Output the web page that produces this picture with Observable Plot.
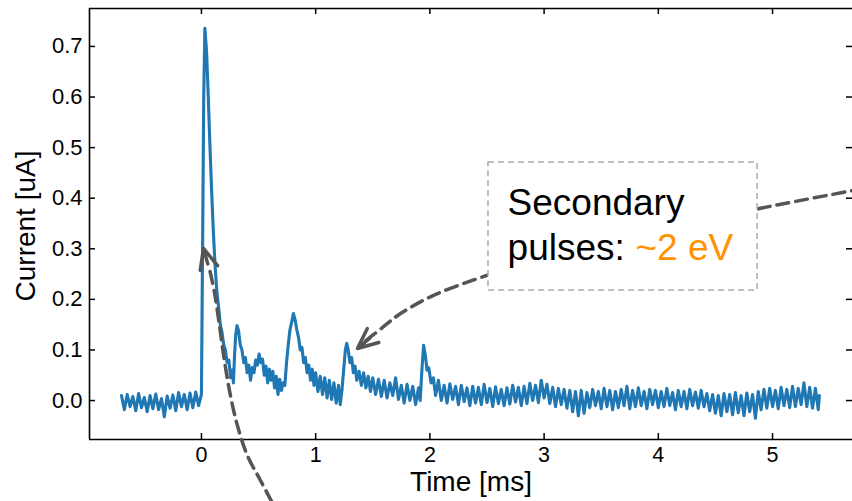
<!DOCTYPE html>
<html><head><meta charset="utf-8">
<script src="https://cdn.jsdelivr.net/npm/d3@7"></script>
<script src="https://cdn.jsdelivr.net/npm/@observablehq/plot@0.6"></script>
<style>html,body{margin:0;padding:0;background:#fff;overflow:hidden;} #chart svg{display:block;}</style>
</head><body><div id="chart"></div>
<script>
// ---- scales / ticks ----
const xDomain = [-0.98, 5.70];
const yDomain = [-0.077, 0.775];
const xTicks = [0, 1, 2, 3, 4, 5];
const yTicks = [0.0, 0.1, 0.2, 0.3, 0.4, 0.5, 0.6, 0.7];
const xLabel = "Time [ms]";
const yLabel = "Current [uA]";

const timeMs = [
-0.700,-0.675,-0.650,-0.625,-0.600,-0.575,-0.550,-0.525,-0.500,-0.475,
-0.450,-0.425,-0.400,-0.375,-0.350,-0.325,-0.300,-0.275,-0.250,-0.225,
-0.200,-0.175,-0.150,-0.125,-0.100,-0.075,-0.050,-0.025,0.000,0.010,
0.020,0.030,0.045,0.060,0.075,0.090,0.105,0.120,0.135,0.150,
0.165,0.180,0.195,0.210,0.225,0.240,0.255,0.270,0.280,0.290,
0.300,0.312,0.325,0.340,0.355,0.370,0.385,0.400,0.415,0.430,
0.445,0.460,0.475,0.490,0.505,0.520,0.535,0.550,0.565,0.580,
0.595,0.610,0.625,0.640,0.655,0.670,0.685,0.700,0.715,0.730,
0.745,0.760,0.775,0.790,0.805,0.820,0.835,0.850,0.865,0.880,
0.895,0.910,0.925,0.940,0.955,0.970,0.985,1.000,1.020,1.040,
1.060,1.080,1.100,1.120,1.140,1.160,1.180,1.200,1.215,1.230,
1.245,1.260,1.272,1.285,1.300,1.315,1.330,1.345,1.360,1.380,
1.400,1.420,1.440,1.460,1.480,1.500,1.525,1.550,1.575,1.600,
1.625,1.650,1.675,1.700,1.725,1.750,1.775,1.800,1.825,1.850,
1.875,1.900,1.915,1.930,1.945,1.960,1.975,1.990,2.010,2.030,
2.050,2.075,2.100,2.125,2.150,2.175,2.200,2.225,2.250,2.275,
2.300,2.325,2.350,2.375,2.400,2.425,2.450,2.475,2.500,2.525,
2.550,2.575,2.600,2.625,2.650,2.675,2.700,2.725,2.750,2.775,
2.800,2.825,2.850,2.875,2.900,2.925,2.950,2.975,3.000,3.025,
3.050,3.075,3.100,3.125,3.150,3.175,3.200,3.225,3.250,3.275,
3.300,3.325,3.350,3.375,3.400,3.425,3.450,3.475,3.500,3.525,
3.550,3.575,3.600,3.625,3.650,3.675,3.700,3.725,3.750,3.775,
3.800,3.825,3.850,3.875,3.900,3.925,3.950,3.975,4.000,4.025,
4.050,4.075,4.100,4.125,4.150,4.175,4.200,4.225,4.250,4.275,
4.300,4.325,4.350,4.375,4.400,4.425,4.450,4.475,4.500,4.525,
4.550,4.575,4.600,4.625,4.650,4.675,4.700,4.725,4.750,4.775,
4.800,4.825,4.850,4.875,4.900,4.925,4.950,4.975,5.000,5.025,
5.050,5.075,5.100,5.125,5.150,5.175,5.200,5.225,5.250,5.275,
5.300,5.325,5.350,5.375,5.400,5.410
];
const currentUA = [
0.010,-0.018,0.012,-0.012,0.008,-0.020,0.014,-0.014,0.006,-0.022,
0.010,-0.016,0.013,-0.018,0.004,-0.032,0.009,-0.015,0.011,-0.020,
0.016,-0.012,0.012,-0.018,0.015,-0.014,0.017,-0.010,0.012,0.300,
0.600,0.736,0.690,0.600,0.500,0.410,0.330,0.265,0.215,0.185,
0.150,0.135,0.110,0.100,0.075,0.080,0.045,0.060,0.035,0.090,
0.130,0.148,0.138,0.110,0.100,0.075,0.085,0.055,0.070,0.040,
0.065,0.055,0.080,0.070,0.092,0.075,0.082,0.050,0.068,0.035,
0.062,0.040,0.058,0.025,0.048,0.012,0.042,0.020,0.035,0.030,
0.075,0.110,0.140,0.155,0.172,0.160,0.140,0.125,0.100,0.105,
0.075,0.085,0.055,0.070,0.040,0.062,0.030,0.055,0.018,0.048,
0.012,0.045,0.005,0.040,0.002,0.035,-0.005,0.030,-0.008,0.020,
0.060,0.100,0.113,0.100,0.075,0.085,0.055,0.068,0.040,0.058,
0.030,0.055,0.025,0.048,0.018,0.045,0.012,0.042,0.008,0.040,
0.005,0.035,0.010,0.045,0.002,0.030,-0.005,0.032,0.000,0.028,
-0.008,0.025,0.000,0.060,0.109,0.090,0.060,0.065,0.035,0.045,
0.010,0.040,0.000,0.030,-0.005,0.033,0.002,0.028,-0.008,0.030,
-0.002,0.025,-0.010,0.028,-0.005,0.026,-0.008,0.032,-0.004,0.024,
-0.012,0.027,-0.006,0.022,-0.010,0.025,-0.007,0.030,-0.003,0.026,
-0.010,0.028,-0.006,0.034,0.000,0.030,-0.004,0.040,0.005,0.032,
-0.006,0.026,-0.012,0.024,-0.008,0.022,-0.015,0.020,-0.022,0.018,
-0.030,0.020,-0.025,0.016,-0.014,0.022,-0.010,0.018,-0.016,0.024,
-0.012,0.020,-0.018,0.018,-0.014,0.022,-0.010,0.028,-0.016,0.020,
-0.012,0.025,-0.010,0.018,-0.016,0.022,-0.008,0.020,-0.014,0.018,
-0.012,0.024,-0.010,0.016,-0.018,0.020,-0.012,0.018,-0.016,0.022,
-0.010,0.017,-0.015,0.020,-0.012,0.014,-0.020,0.012,-0.025,0.010,
-0.030,0.014,-0.022,0.012,-0.028,0.016,-0.024,0.010,-0.030,0.015,
-0.022,0.012,-0.035,0.018,-0.018,0.022,-0.015,0.024,-0.012,0.020,
-0.016,0.026,-0.010,0.022,-0.014,0.028,-0.012,0.024,-0.008,0.035,
-0.012,0.026,-0.015,0.024,-0.018,0.010
];

// ---- annotation geometry (data coordinates) ----
const noteLines = ["Secondary", "pulses: "];
const noteX = [2.680, 2.680];
const noteY = [0.366, 0.277];
const noteHighlight = "~2 eV";
const noteHighlightX = 3.800;
const noteHighlightY = 0.277;
const boxX = [2.513, 4.869];
const boxY = [0.2175, 0.4705];
// arrow to secondary pulse (tail -> head)
const arrowAT = [6.121, 5.701, 4.895, 3.669, 2.793, 2.417, 2.032, 1.743, 1.594, 1.410];
const arrowAV = [0.433, 0.415, 0.380, 0.320, 0.269, 0.241, 0.208, 0.172, 0.146, 0.113];
const headA = {x1: 2.040, y1: 0.229, x2: 1.366, y2: 0.103};
// arrow to main pulse (tail -> head)
const arrowBT = [0.692, 0.639, 0.517, 0.403, 0.315, 0.254, 0.201, 0.158, 0.114, 0.070];
const arrowBV = [-0.233, -0.210, -0.158, -0.109, -0.0494, 0.0099, 0.079, 0.148, 0.2136, 0.261];
const headB = {x1: 0.254, y1: 0.111, x2: 0.0175, y2: 0.3006};

// ---- layout ----
const W = 852, H = 501, mL = 89, mR = 0, mT = 8, mB = 62;
const pxX = (W - mL - mR) / (xDomain[1] - xDomain[0]);
const pxY = (H - mT - mB) / (yDomain[1] - yDomain[0]);
const tickLen = 6;
const trace = timeMs.map((t, i) => ({t, v: currentUA[i]}));
const pathA = arrowAT.map((t, i) => ({t, v: arrowAV[i]}));
const pathB = arrowBT.map((t, i) => ({t, v: arrowBV[i]}));
const hLen = h => Math.hypot((h.x2 - h.x1) * pxX, (h.y2 - h.y1) * pxY);
const annColor = "#555555";

const chart = Plot.plot({
  width: W, height: H,
  marginLeft: mL, marginRight: mR, marginTop: mT, marginBottom: mB,
  x: {domain: xDomain},
  y: {domain: yDomain},
  style: {fontFamily: "'Liberation Sans', Arial, sans-serif", background: "white", color: "black", overflow: "hidden"},
  marks: [
    // spines
    Plot.ruleX([xDomain[0]], {stroke: "black", strokeWidth: 1.6}),
    Plot.ruleY([yDomain[0]], {stroke: "black", strokeWidth: 1.6}),
    Plot.ruleY([yDomain[1]], {stroke: "black", strokeWidth: 1.6}),
    // inward ticks
    Plot.ruleX(xTicks, {x: d => d, y1: yDomain[0], y2: yDomain[0] + tickLen / pxY, stroke: "black", strokeWidth: 1.5}),
    Plot.ruleX(xTicks, {x: d => d, y1: yDomain[1] - tickLen / pxY, y2: yDomain[1], stroke: "black", strokeWidth: 1.5}),
    Plot.ruleY(yTicks, {y: d => d, x1: xDomain[0], x2: xDomain[0] + tickLen / pxX, stroke: "black", strokeWidth: 1.5}),
    Plot.ruleY(yTicks, {y: d => d, x1: xDomain[1] - tickLen / pxX, x2: xDomain[1], stroke: "black", strokeWidth: 1.5}),
    Plot.axisX({anchor: "bottom", ticks: xTicks, tickSize: 0, tickPadding: 7, fontSize: 21.5, tickFormat: d => String(d), label: null}),
    Plot.axisY({anchor: "left", ticks: yTicks, tickSize: 0, tickPadding: 7, fontSize: 22, tickFormat: d3.format(".1f"), label: null}),
    Plot.text([xLabel], {frameAnchor: "bottom", dy: 51, lineAnchor: "bottom", fontSize: 28, fill: "black"}),
    Plot.text([yLabel], {frameAnchor: "left", rotate: -90, dx: -55, dy: 2, textAnchor: "middle", lineAnchor: "bottom", fontSize: 28, fill: "black"}),
    // data
    Plot.line(trace, {x: "t", y: "v", stroke: "#1f77b4", strokeWidth: 3.1, strokeLinejoin: "round"}),
    // arrows
    Plot.line(pathA, {x: "t", y: "v", curve: "catmull-rom", stroke: annColor, strokeWidth: 3.5, strokeDasharray: "12,7"}),
    Plot.arrow([headA], {x1: "x1", y1: "y1", x2: "x2", y2: "y2", bend: 0, headLength: 9.5, headAngle: 48, insetStart: hLen(headA) - 16, stroke: annColor, strokeWidth: 3.5}),
    Plot.line(pathB, {x: "t", y: "v", curve: "catmull-rom", stroke: annColor, strokeWidth: 3.5, strokeDasharray: "12,7"}),
    Plot.arrow([headB], {x1: "x1", y1: "y1", x2: "x2", y2: "y2", bend: 0, headLength: 9.5, headAngle: 48, insetStart: hLen(headB) - 16, stroke: annColor, strokeWidth: 3.5}),
    // text box
    Plot.rect([0], {x1: boxX[0], x2: boxX[1], y1: boxY[0], y2: boxY[1], fill: "white", stroke: "#aaaaaa", strokeWidth: 1.5, strokeDasharray: "6,4"}),
    Plot.text(noteLines, {x: (d, i) => noteX[i], y: (d, i) => noteY[i], text: d => d, textAnchor: "start", lineAnchor: "bottom", fontSize: 37, fill: "black"}),
    Plot.text([noteHighlight], {x: noteHighlightX, y: noteHighlightY, textAnchor: "start", lineAnchor: "bottom", fontSize: 37, fill: "#ff9200"})
  ]
});
document.getElementById("chart").appendChild(chart);
</script></body></html>
